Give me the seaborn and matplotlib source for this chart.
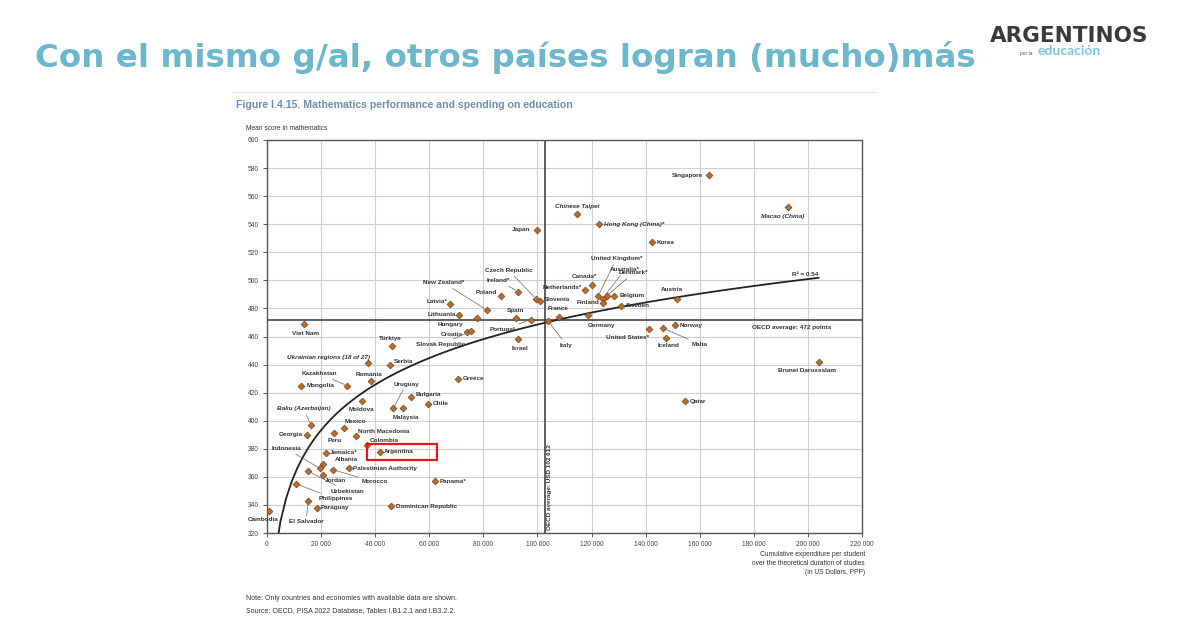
import numpy as np
import pandas as pd
import seaborn as sns
import matplotlib.pyplot as plt
from matplotlib.patches import Rectangle
from matplotlib.lines import Line2D
from matplotlib.ticker import FuncFormatter

# datos (PISA 2022, gasto acumulado por alumno en USD PPP)
countries = [
    'Singapore', 'Macao (China)', 'Chinese Taipei', 'Hong Kong (China)*', 'Japan', 'Korea',
    'Canada*', 'Netherlands*', 'Ireland*', 'United Kingdom*', 'Australia*', 'Denmark*',
    'Belgium', 'Finland', 'Sweden', 'Austria', 'Poland', 'Czech Republic', 'Slovenia',
    'New Zealand*', 'Latvia*', 'Lithuania', 'Hungary', 'Spain', 'Portugal', 'Italy',
    'France', 'Germany', 'Croatia', 'Slovak Republic', 'Israel', 'Norway', 'United States*',
    'Malta', 'Iceland', 'Brunei Darussalam', 'Qatar', 'Viet Nam', 'Türkiye',
    'Ukrainian regions (18 of 27)', 'Serbia', 'Kazakhstan', 'Mongolia', 'Romania', 'Greece',
    'Uruguay', 'Malaysia', 'Bulgaria', 'Chile', 'Moldova', 'Baku (Azerbaijan)', 'Mexico',
    'Georgia', 'Peru', 'North Macedonia', 'Colombia', 'Argentina', 'Jamaica*', 'Albania',
    'Indonesia', 'Uzbekistan', 'Jordan', 'Morocco', 'Palestinian Authority', 'Philippines',
    'El Salvador', 'Paraguay', 'Cambodia', 'Dominican Republic', 'Panama*',
]
spending = [
    163400, 192600, 114600, 122700, 99800, 142300,
    120000, 117600, 92900, 122500, 124100, 125600,
    128400, 124300, 131000, 151600, 86400, 99400, 100900,
    81200, 67700, 71000, 77700, 91900, 97500, 104000,
    108000, 118800, 74000, 75500, 92900, 150800, 141200,
    146300, 147500, 204000, 154600, 13700, 46300,
    37300, 45500, 29600, 12700, 38400, 70600,
    46700, 50200, 53200, 59500, 35300, 16200, 28500,
    14800, 24900, 32900, 36800, 41600, 21800, 20800,
    19600, 15300, 20600, 24500, 30400, 10800,
    15200, 18600, 900, 45800, 62000,
]
math_score = [
    575, 552, 547, 540, 536, 527,
    497, 493, 492, 489, 487, 489,
    489, 484, 482, 487, 489, 487, 485,
    479, 483, 475, 473, 473, 472, 471,
    474, 475, 463, 464, 458, 468, 465,
    466, 459, 442, 414, 469, 453,
    441, 440, 425, 425, 428, 430,
    409, 409, 417, 412, 414, 397, 395,
    390, 391, 389, 383, 378, 377, 369,
    366, 364, 361, 365, 366, 355,
    343, 338, 336, 339, 357,
]
italic_names = ['Macao (China)', 'Chinese Taipei', 'Hong Kong (China)*',
                'Ukrainian regions (18 of 27)', 'Baku (Azerbaijan)']
oecd_avg_score = 472
oecd_avg_spending = 102612
x_ticks = list(range(0, 220001, 20000))
y_ticks = list(range(320, 601, 20))

# donde va cada etiqueta respecto del punto (pixeles), y si lleva linea guia
label_pos = {
    'Singapore': (-6, 0, 'right', False), 'Macao (China)': (-5, -9, 'center', False),
    'Chinese Taipei': (0, 8, 'center', False), 'Hong Kong (China)*': (5, 0, 'left', False),
    'Japan': (-7, 0, 'right', False), 'Korea': (5, 0, 'left', False),
    'Canada*': (-7, 8, 'center', False), 'Netherlands*': (-3, 3, 'right', False),
    'Ireland*': (-20, 11, 'center', True), 'United Kingdom*': (18, 37, 'center', True),
    'Australia*': (22, 29, 'center', True), 'Denmark*': (27, 23, 'center', True),
    'Belgium': (5, 0, 'left', False), 'Finland': (-4, 0, 'right', False),
    'Sweden': (5, 0, 'left', False), 'Austria': (-5, 9, 'center', False),
    'Poland': (-4, 3, 'right', False), 'Czech Republic': (-27, 28, 'center', True),
    'Slovenia': (4, 2, 'left', False), 'New Zealand*': (-43, 27, 'center', True),
    'Latvia*': (-3, 3, 'right', False), 'Lithuania': (-3, 1, 'right', False),
    'Hungary': (-14, -6, 'right', True), 'Spain': (0, 8, 'center', False),
    'Portugal': (-15, -10, 'right', True), 'Italy': (18, -24, 'center', True),
    'France': (-1, 8, 'center', False), 'Germany': (-1, -10, 'left', False),
    'Croatia': (-4, -2, 'right', False), 'Slovak Republic': (-6, -14, 'right', True),
    'Israel': (2, -9, 'center', False), 'Norway': (5, 0, 'left', False),
    'United States*': (0, -8, 'right', False), 'Malta': (37, -16, 'center', True),
    'Iceland': (3, -8, 'center', False), 'Brunei Darussalam': (-12, -9, 'center', False),
    'Qatar': (5, 0, 'left', False), 'Viet Nam': (1, -10, 'center', False),
    'Türkiye': (-2, 8, 'center', False), 'Ukrainian regions (18 of 27)': (2, 6, 'right', True),
    'Serbia': (4, 3, 'left', False), 'Kazakhstan': (-28, 12, 'center', True),
    'Mongolia': (5, 0, 'left', False), 'Romania': (-2, 7, 'center', False),
    'Greece': (5, 0, 'left', False), 'Uruguay': (13, 24, 'center', True),
    'Malaysia': (3, -9, 'center', False), 'Bulgaria': (5, 2, 'left', False),
    'Chile': (5, 0, 'left', False), 'Moldova': (-1, -8, 'center', False),
    'Baku (Azerbaijan)': (-7, 16, 'center', True), 'Mexico': (1, 6, 'left', False),
    'Georgia': (-4, 0, 'right', False), 'Peru': (0, -7, 'center', False),
    'North Macedonia': (2, 5, 'left', False), 'Colombia': (3, 4, 'left', False),
    'Argentina': (4, 0, 'left', False), 'Jamaica*': (4, 0, 'left', False),
    'Albania': (12, 5, 'left', False), 'Indonesia': (-34, 20, 'center', True),
    'Uzbekistan': (22, -20, 'left', True), 'Jordan': (2, -5, 'left', False),
    'Morocco': (28, -12, 'left', True), 'Palestinian Authority': (4, 0, 'left', False),
    'Philippines': (22, -15, 'left', True), 'El Salvador': (-2, -21, 'center', True),
    'Paraguay': (3, 0, 'left', False), 'Cambodia': (-6, -9, 'center', False),
    'Dominican Republic': (5, 0, 'left', False), 'Panama*': (5, 0, 'left', False),
}

df = pd.DataFrame({'country': countries, 'spending': spending, 'math': math_score})

sns.set_theme(style='white')
plt.rcParams['font.family'] = ['Liberation Sans Narrow', 'Liberation Sans', 'DejaVu Sans']

W, H = 1200, 634
fig = plt.figure(figsize=(12, 6.34), dpi=100)
fig.patch.set_facecolor('white')
ax = fig.add_axes([267 / W, 1 - 533 / H, (862 - 267) / W, (533 - 140) / H])

# referencias OCDE
ax.axhline(oecd_avg_score, color='#444444', lw=1.2, zorder=1)
ax.axvline(oecd_avg_spending, color='#444444', lw=1.2, zorder=1)

# curva de tendencia logaritmica
sns.regplot(data=df, x='spending', y='math', logx=True, scatter=False, ci=None,
            line_kws=dict(color='#222222', lw=1.3, zorder=2), ax=ax)

sns.scatterplot(data=df, x='spending', y='math', marker='D', s=12, color='#b86c30',
                edgecolor='#7a4418', linewidth=0.5, zorder=3, ax=ax)

for name, x, y in zip(countries, spending, math_score):
    dx, dy, ha, leader = label_pos[name]
    arrow = dict(arrowstyle='-', color='#666666', lw=0.5, shrinkA=0, shrinkB=2) if leader else None
    ax.annotate(name, (x, y), xytext=(dx, dy), textcoords='offset pixels', ha=ha, va='center',
                fontsize=4.6, color='#333333', fontweight='bold',
                style='italic' if name in italic_names else 'normal',
                arrowprops=arrow, annotation_clip=False, zorder=4)

ax.add_patch(Rectangle((37000, 372), 25800, 11.4, fill=False, ec='#e8161b', lw=1.6, zorder=5))

ax.text(179500, 466.5, 'OECD average: 472 points', fontsize=4.6, color='#333333',
        fontweight='bold', va='center')
ax.text(103600, 322, 'OECD average: USD 102 612', rotation=90, fontsize=4.6,
        color='#333333', fontweight='bold', ha='left', va='bottom')
ax.text(194000, 504, 'R² = 0.54', fontsize=4.6, color='#333333', fontweight='bold', va='center')

ax.set_xlim(0, 220000)
ax.set_ylim(320, 600)
ax.set_xticks(x_ticks)
ax.set_yticks(y_ticks)
ax.xaxis.set_major_formatter(FuncFormatter(lambda v, p: f'{int(v):,}'.replace(',', ' ')))
ax.grid(True, color='#cfcfcf', lw=0.8)
ax.set_axisbelow(True)
ax.tick_params(labelsize=4.8, colors='#444444', length=3, width=0.6, pad=3,
               bottom=True, left=True, direction='out')
ax.set_xlabel('')
ax.set_ylabel('')
for s in ax.spines.values():
    s.set_color('#555555')
    s.set_linewidth(1)

# textos del grafico original
fig.text(236 / W, 1 - 105 / H, 'Figure I.4.15. Mathematics performance and spending on education',
         fontsize=7.6, fontweight='bold', color='#6f8db3', family=['Liberation Sans', 'DejaVu Sans'],
         va='center')
fig.add_artist(Line2D([232 / W, 876 / W], [1 - 92 / H, 1 - 92 / H], color='#e6e6e6', lw=0.8))
fig.text(246 / W, 1 - 128 / H, 'Mean score in mathematics', fontsize=4.8, color='#333333', va='center')
fig.text(865 / W, 1 - 551 / H,
         'Cumulative expenditure per student\nover the theoretical duration of studies\n(in US Dollars, PPP)',
         fontsize=4.8, color='#333333', ha='right', va='top', linespacing=1.35)
fig.text(246 / W, 1 - 598 / H, 'Note: Only countries and economies with available data are shown.',
         fontsize=5, color='#333333', va='center')
fig.text(246 / W, 1 - 611 / H, 'Source: OECD, PISA 2022 Database, Tables I.B1.2.1 and I.B3.2.2.',
         fontsize=5, color='#333333', va='center')

# titulo de la diapositiva y logo
fig.text(35 / W, 1 - 57 / H, 'Con el mismo g/al, otros países logran (mucho)más', fontsize=23.4,
         fontweight='bold', color='#6db7cd', family=['DejaVu Sans'], va='center')
fig.text(1148 / W, 1 - 36 / H, 'ARGENTINOS', fontsize=15.5, fontweight='bold', color='#3a3a3a',
         family=['Liberation Sans Narrow', 'DejaVu Sans'], ha='right', va='center')
fig.text(1032 / W, 1 - 53 / H, 'por la', fontsize=3.5, color='#555555', ha='right', va='center')
fig.text(1038 / W, 1 - 51 / H, 'educación', fontsize=10, color='#7cc4e2', fontweight='bold',
         family=['Lato', 'DejaVu Sans'], va='center')

fig.savefig('out.png', dpi=100, facecolor='white')
